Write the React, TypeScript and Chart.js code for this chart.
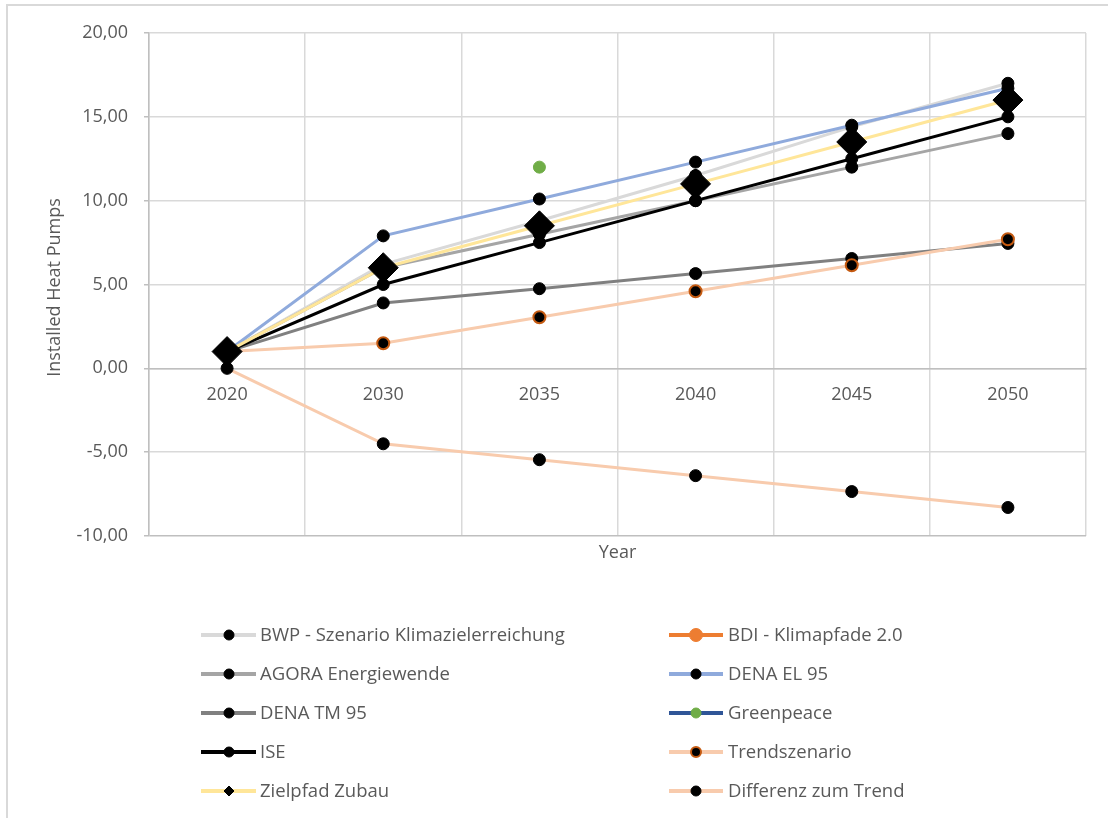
import React, { useEffect, useRef } from 'react';
import { Chart, registerables } from 'chart.js';

Chart.register(...registerables);

// ---- Data ----
const categories = ['2020', '2030', '2035', '2040', '2045', '2050'];

const seriesNames = [
  'BWP - Szenario Klimazielerreichung',
  'BDI - Klimapfade 2.0',
  'AGORA Energiewende',
  'DENA EL 95',
  'DENA TM 95',
  'Greenpeace',
  'ISE',
  'Trendszenario',
  'Zielpfad Zubau',
  'Differenz zum Trend',
];

const bwp = [1, 6.2, 8.8, 11.5, 14.4, 17.0];
const bdi: (number | null)[] = [null, null, null, null, null, null];
const agora = [1, 6.0, 8.0, 10.0, 12.0, 14.0];
const denaEl = [1, 7.9, 10.1, 12.3, 14.5, 16.7];
const denaTm = [1, 3.9, 4.75, 5.65, 6.55, 7.45];
const greenpeace: (number | null)[] = [null, null, 12.0, null, null, null];
const ise = [1, 5.0, 7.5, 10.0, 12.5, 15.0];
const trend = [1, 1.5, 3.05, 4.6, 6.15, 7.7];
const zielpfad = [1, 6.0, 8.5, 11.0, 13.5, 16.0];
const differenz = [0, -4.5, -5.45, -6.4, -7.35, -8.3];

const Y_MIN = -10;
const Y_MAX = 20;
const Y_STEP = 5;

const xTitle = 'Year';
const yTitle = 'Installed Heat Pumps';

const FONT = 'Open Sans';
const TEXT = '#595959';

function lineDs(i: number, data: (number | null)[], color: string, extra: any = {}) {
  return {
    label: seriesNames[i],
    data,
    borderColor: color,
    backgroundColor: color,
    borderWidth: 3,
    pointRadius: 6,
    pointHoverRadius: 6,
    pointBackgroundColor: '#000000',
    pointBorderColor: '#000000',
    pointBorderWidth: 1,
    pointStyle: 'circle',
    tension: 0,
    fill: false,
    order: 20 - i,
    legendRadius: 5,
    ...extra,
  };
}

const decorPlugin = {
  id: 'decor',
  beforeDraw(chart: any) {
    const ctx = chart.ctx;
    ctx.save();
    ctx.strokeStyle = '#d9d9d9';
    ctx.lineWidth = 2;
    ctx.strokeRect(7, 5, 1300, 1000);
    ctx.restore();
  },
  afterDraw(chart: any) {
    const ctx = chart.ctx;
    const area = chart.chartArea;
    ctx.save();
    ctx.fillStyle = TEXT;
    ctx.font = `18px "${FONT}"`;
    ctx.textAlign = 'center';
    ctx.textBaseline = 'middle';
    ctx.fillText(xTitle, (area.left + area.right) / 2, 553);
    ctx.save();
    ctx.translate(55, (area.top + area.bottom) / 2 + 3);
    ctx.rotate(-Math.PI / 2);
    ctx.fillText(yTitle, 0, 0);
    ctx.restore();

    // legend
    chart.data.datasets.forEach((ds: any, i: number) => {
      const col = i % 2;
      const row = Math.floor(i / 2);
      const lx1 = col ? 669 : 201;
      const lx2 = col ? 723 : 256;
      const mx = col ? 696 : 229;
      const tx = col ? 728 : 260;
      const y = 635 + row * 39;
      ctx.strokeStyle = ds.borderColor;
      ctx.lineWidth = 4;
      ctx.beginPath();
      ctx.moveTo(lx1, y);
      ctx.lineTo(lx2, y);
      ctx.stroke();
      const r = ds.legendRadius;
      ctx.fillStyle = ds.pointBackgroundColor;
      ctx.strokeStyle = ds.pointBorderColor;
      ctx.lineWidth = ds.pointBorderWidth;
      ctx.beginPath();
      if (ds.pointStyle === 'rectRot') {
        ctx.moveTo(mx - r, y);
        ctx.lineTo(mx, y - r);
        ctx.lineTo(mx + r, y);
        ctx.lineTo(mx, y + r);
        ctx.closePath();
      } else {
        ctx.arc(mx, y, r, 0, Math.PI * 2);
      }
      ctx.fill();
      if (ds.pointBorderWidth > 0) ctx.stroke();
      ctx.fillStyle = TEXT;
      ctx.font = `18.5px "${FONT}"`;
      ctx.textAlign = 'left';
      ctx.textBaseline = 'middle';
      ctx.fillText(ds.label, tx, y + 1);
    });
    ctx.restore();
  },
};

export default function App() {
  const ref = useRef<HTMLCanvasElement | null>(null);

  useEffect(() => {
    document.body.style.margin = '0';
    const datasets: any[] = [
      lineDs(0, bwp, '#d9d9d9'),
      lineDs(1, bdi, '#ed7d31', {
        pointBackgroundColor: '#ed7d31',
        pointBorderColor: '#ed7d31',
        legendRadius: 6.5,
      }),
      lineDs(2, agora, '#a5a5a5'),
      lineDs(3, denaEl, '#8faadc'),
      lineDs(4, denaTm, '#808080'),
      lineDs(5, greenpeace, '#2f5597', {
        pointBackgroundColor: '#70ad47',
        pointBorderColor: '#70ad47',
      }),
      lineDs(6, ise, '#000000'),
      lineDs(7, trend, '#f8cbad', {
        pointBorderColor: '#c55a11',
        pointBorderWidth: 2,
      }),
      lineDs(8, zielpfad, '#ffe699', {
        pointStyle: 'rectRot',
        pointRadius: 15,
        pointHoverRadius: 15,
        legendRadius: 5,
      }),
      lineDs(9, differenz, '#f8cbad'),
    ];

    const chart = new Chart(ref.current as HTMLCanvasElement, {
      type: 'line',
      data: { labels: categories, datasets },
      options: {
        animation: false,
        responsive: true,
        maintainAspectRatio: false,
        layout: { padding: { top: 33, right: 22, bottom: 282, left: 0 } },
        plugins: {
          legend: { display: false },
          tooltip: { enabled: false },
          title: { display: false },
        },
        scales: {
          x: {
            type: 'category',
            position: { y: 0 } as any,
            offset: true,
            grid: { offset: true, color: '#d9d9d9', lineWidth: 1.5, drawTicks: false },
            border: { color: '#bfbfbf', width: 1.5 },
            ticks: {
              color: TEXT,
              font: { family: FONT, size: 18 },
              padding: 16,
              maxRotation: 0,
              autoSkip: false,
            },
          },
          y: {
            type: 'linear',
            min: Y_MIN,
            max: Y_MAX,
            afterFit: (s: any) => {
              s.width = 149;
            },
            grid: {
              color: (c: any) => (c.tick && c.tick.value === Y_MIN ? '#bfbfbf' : '#d9d9d9'),
              lineWidth: 1.5,
              tickLength: 5,
              tickColor: '#bfbfbf',
            },
            border: { color: '#bfbfbf', width: 1.5 },
            ticks: {
              stepSize: Y_STEP,
              color: TEXT,
              font: { family: FONT, size: 18 },
              padding: 16,
              callback: (v: any) => Number(v).toFixed(2).replace('.', ','),
            },
          },
        },
      },
      plugins: [decorPlugin],
    });
    return () => chart.destroy();
  }, []);

  return (
    <div style={{ width: 1108, height: 818, position: 'relative' }}>
      <canvas ref={ref} />
    </div>
  );
}
